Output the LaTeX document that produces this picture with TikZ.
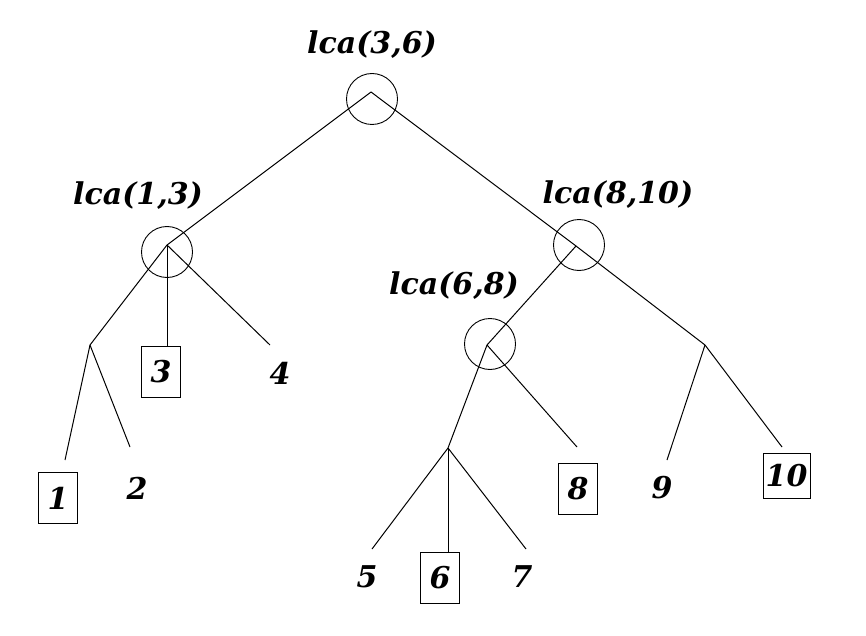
\documentclass[tikz,border=0pt]{standalone}
\usepackage{fontspec}
\setmainfont{DejaVu Serif}
\begin{document}
\begin{tikzpicture}[x=1pt,y=-1pt,
  every node/.style={font=\fontsize{30}{31}\selectfont\bfseries\itshape, inner sep=0pt},
  ring/.style={draw, circle, minimum size=51pt, line width=0.9pt},
  leafbox/.style={draw, rectangle, minimum width=39pt, minimum height=51pt, line width=0.9pt},
  edge/.style={line width=1pt}]
\useasboundingbox (0,0) rectangle (866,636);
% circles
\node[ring] (c36) at (372,99) {};
\node[ring] (c13) at (167,252) {};
\node[ring] (c810) at (579,245) {};
\node[ring] (c68) at (490,344) {};
% labels
\node (l36) at (372,45) {lca(3,6)};
\node (l13) at (138,196) {lca(1,3)};
\node (l810) at (618,195) {lca(8,10)};
\node (l68) at (454,286) {lca(6,8)};
% junctions
\coordinate (r) at (371,92);
\coordinate (a) at (167,245);
\coordinate (b) at (576,246);
\coordinate (d) at (487,345);
\coordinate (p) at (90,345);
\coordinate (q) at (448,448);
\coordinate (s) at (705,345);
% leaves
\node[leafbox] (n1) at (58,498) {1};
\node (n2) at (137,488) {2};
\node[leafbox] (n3) at (161,371.5) {3};
\node (n4) at (280,373) {4};
\node (n5) at (367,577) {5};
\node[leafbox] (n6) at (440,577.5) {6};
\node (n7) at (522,577) {7};
\node[leafbox] (n8) at (578,488.5) {8};
\node (n9) at (662,488) {9};
\node[leafbox, minimum width=47pt, minimum height=45pt] (n10) at (786.5,475.5) {10};
% free ends
\coordinate (e1) at (65,460);
\coordinate (e2) at (130,447);
\coordinate (e4) at (270,345);
\coordinate (e5) at (372,549);
\coordinate (e7) at (526,549);
\coordinate (e8) at (577,447);
\coordinate (e9) at (667,460);
\coordinate (e10) at (782,447);
% edges
\draw[edge] (r) -- (a);
\draw[edge] (r) -- (b);
\draw[edge] (b) -- (s);
\draw[edge] (b) -- (d);
\draw[edge] (a) -- (p);
\draw[edge] (a) -- (a |- n3.north);
\draw[edge] (a) -- (e4);
\draw[edge] (p) -- (e1);
\draw[edge] (p) -- (e2);
\draw[edge] (d) -- (q);
\draw[edge] (d) -- (e8);
\draw[edge] (q) -- (e5);
\draw[edge] (q) -- (q |- n6.north);
\draw[edge] (q) -- (e7);
\draw[edge] (s) -- (e9);
\draw[edge] (s) -- (e10);
\end{tikzpicture}
\end{document}
